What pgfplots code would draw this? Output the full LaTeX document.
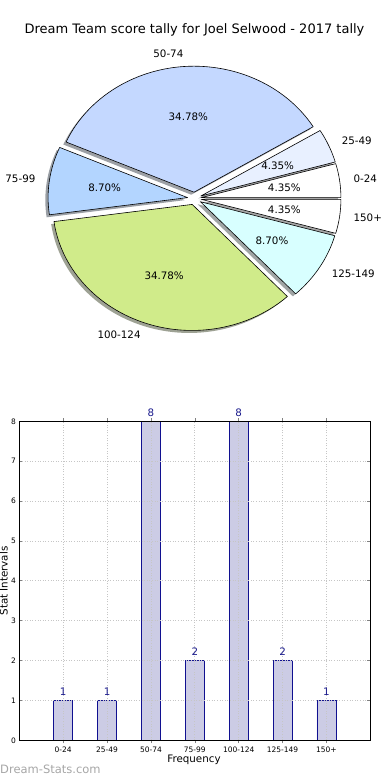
\documentclass[border=0pt]{standalone}
\usepackage{fontspec}
\setmainfont{DejaVu Sans}
\usepackage{pgfplots}
\pgfplotsset{compat=1.18}

\definecolor{cA}{HTML}{FFFFFF}
\definecolor{cB}{HTML}{E8F0FF}
\definecolor{cC}{HTML}{C4D8FF}
\definecolor{cD}{HTML}{B3D5FF}
\definecolor{cE}{HTML}{D0EB8A}
\definecolor{cF}{HTML}{D8FFFF}
\definecolor{cG}{HTML}{FFFFFF}
\definecolor{barfill}{HTML}{CCCCE5}
\definecolor{baredge}{HTML}{101090}
\definecolor{navytxt}{HTML}{1A1A8C}

% values of the seven score bands
\def\va{1}\def\vb{1}\def\vc{8}\def\vd{2}\def\ve{8}\def\vf{2}\def\vg{1}
\pgfmathsetmacro\tot{\va+\vb+\vc+\vd+\ve+\vf+\vg}
\pgfmathsetmacro\aA{0}
\pgfmathsetmacro\aB{\aA+360*\va/\tot}
\pgfmathsetmacro\aC{\aB+360*\vb/\tot}
\pgfmathsetmacro\aD{\aC+360*\vc/\tot}
\pgfmathsetmacro\aE{\aD+360*\vd/\tot}
\pgfmathsetmacro\aF{\aE+360*\ve/\tot}
\pgfmathsetmacro\aG{\aF+360*\vf/\tot}
\pgfmathsetmacro\aH{\aG+360*\vg/\tot}
\pgfmathsetmacro\mA{(\aA+\aB)/2}
\pgfmathsetmacro\mB{(\aB+\aC)/2}
\pgfmathsetmacro\mC{(\aC+\aD)/2}
\pgfmathsetmacro\mD{(\aD+\aE)/2}
\pgfmathsetmacro\mE{(\aE+\aF)/2}
\pgfmathsetmacro\mF{(\aF+\aG)/2}
\pgfmathsetmacro\mG{(\aG+\aH)/2}
\pgfmathsetmacro\pA{100*\va/\tot}
\pgfmathsetmacro\pB{100*\vb/\tot}
\pgfmathsetmacro\pC{100*\vc/\tot}
\pgfmathsetmacro\pD{100*\vd/\tot}
\pgfmathsetmacro\pE{100*\ve/\tot}
\pgfmathsetmacro\pF{100*\vf/\tot}
\pgfmathsetmacro\pG{100*\vg/\tot}

\def\RX{139.5bp}\def\RY{126bp}
\newcommand\lab{\fontsize{10.3bp}{12bp}\selectfont}

\newcommand\pieshadow[4]{%
  \fill[fill=#4!30!black, fill opacity=0.5]
    (axis cs:{0.05*cos(#3)-0.02},{0.05*sin(#3)-0.02}) -- ++(#1:\RX\space and \RY)
    arc[start angle=#1, end angle=#2, x radius=\RX, y radius=\RY] -- cycle;}
\newcommand\piewedge[7]{%
  \filldraw[fill=#4, draw=black, line width=0.6bp, line join=round]
    (axis cs:{0.05*cos(#3)},{0.05*sin(#3)}) -- ++(#1:\RX\space and \RY)
    arc[start angle=#1, end angle=#2, x radius=\RX, y radius=\RY] -- cycle;
  \node[anchor=#7, inner sep=0pt, font=\lab] at (axis cs:{1.15*cos(#3)},{1.15*sin(#3)}) {#5};
  \node[inner sep=0pt, font=\lab] at (axis cs:{0.65*cos(#3)},{0.65*sin(#3)})
    {\pgfmathprintnumber[fixed, fixed zerofill, precision=2, assume math mode=true]{#6}\%};}

\begin{document}
\begin{tikzpicture}[x=1bp,y=1bp]
\useasboundingbox (0,0) rectangle (390,780);

\node[font=\fontsize{13bp}{15bp}\selectfont, anchor=base] at (194.5,746.5)
  {Dream Team score tally for Joel Selwood - 2017 tally};

\begin{axis}[at={(194.5bp,581.5bp)}, anchor=center, x=139.5bp, y=126bp,
  xmin=-1.3, xmax=1.3, ymin=-1.3, ymax=1.3, hide axis, clip=false]
  \pieshadow{\aA}{\aB}{\mA}{cA}
  \pieshadow{\aB}{\aC}{\mB}{cB}
  \pieshadow{\aC}{\aD}{\mC}{cC}
  \pieshadow{\aD}{\aE}{\mD}{cD}
  \pieshadow{\aE}{\aF}{\mE}{cE}
  \pieshadow{\aF}{\aG}{\mF}{cF}
  \pieshadow{\aG}{\aH}{\mG}{cG}
  \piewedge{\aA}{\aB}{\mA}{cA}{0-24}{\pA}{west}
  \piewedge{\aB}{\aC}{\mB}{cB}{25-49}{\pB}{west}
  \piewedge{\aC}{\aD}{\mC}{cC}{50-74}{\pC}{east}
  \piewedge{\aD}{\aE}{\mD}{cD}{75-99}{\pD}{east}
  \piewedge{\aE}{\aF}{\mE}{cE}{100-124}{\pE}{east}
  \piewedge{\aF}{\aG}{\mF}{cF}{125-149}{\pF}{west}
  \piewedge{\aG}{\aH}{\mG}{cG}{150+}{\pG}{west}
\end{axis}

\begin{axis}[at={(19.3bp,39.7bp)}, anchor=south west, scale only axis,
  width=351bp, height=319bp,
  xmin=-1, xmax=7, ymin=0, ymax=8,
  xtick={0,1,2,3,4,5,6},
  xticklabels={0-24,25-49,50-74,75-99,100-124,125-149,150+},
  ytick={0,1,2,3,4,5,6,7,8},
  ybar, bar width=19bp,
  grid=major,
  grid style={gray!45, line width=0.7bp, dash pattern=on 1bp off 1.6bp},
  axis line style={line width=0.8bp},
  tick style={gray, line width=0.6bp}, major tick length=3bp,
  xticklabel style={font=\fontsize{7.5bp}{9bp}\selectfont},
  yticklabel style={font=\fontsize{7.5bp}{9bp}\selectfont},
  /pgf/number format/assume math mode=true,
  nodes near coords,
  nodes near coords style={font=\lab, text=navytxt, anchor=south, yshift=1bp},
  axis on top, clip=false]
\addplot[fill=barfill, draw=baredge, line width=0.8bp]
  coordinates {(0,1) (1,1) (2,8) (3,2) (4,8) (5,2) (6,1)};
\end{axis}

\node[font=\lab] at (194,20) {Frequency};
\node[font=\lab, rotate=90, anchor=base] at (7.5,199) {Stat Intervals};
\node[anchor=base west, inner sep=0pt, font=\fontsize{11.5bp}{13bp}\selectfont, text=gray!70]
  at (0,6) {Dream-Stats.com};
\end{tikzpicture}
\end{document}
